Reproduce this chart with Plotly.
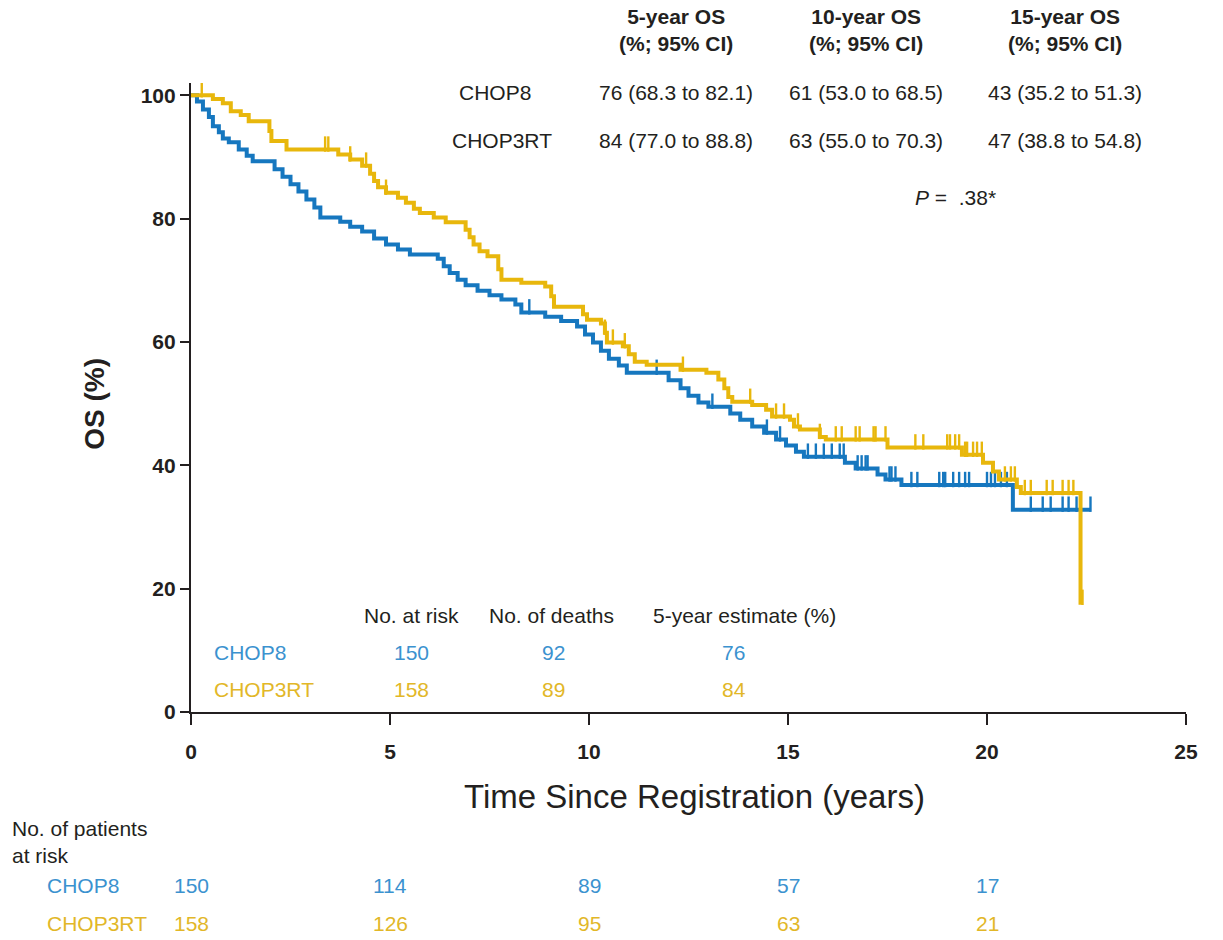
import numpy as np
import plotly.graph_objects as go

# ---------------- data ----------------
chop8_t = [0, 0.15, 0.3, 0.45, 0.55, 0.7, 0.8, 0.95, 1.2, 1.4, 1.55, 2.1, 2.3, 2.5, 2.7, 2.9, 3.1, 3.25,
           3.75, 4.0, 4.3, 4.6, 4.9, 5.2, 5.5, 6.2, 6.35, 6.5, 6.7, 6.9, 7.2, 7.5, 7.8, 8.15, 8.3, 8.9,
           9.3, 9.7, 9.9, 10.1, 10.3, 10.5, 10.75, 10.95, 12.0, 12.3, 12.5, 12.75, 13.0, 13.55, 13.8,
           14.1, 14.4, 14.7, 14.95, 15.2, 15.4, 16.43, 16.7, 17.25, 17.45, 17.85, 20.65, 22.6]
chop8_s = [100, 99, 97.7, 96.5, 95, 94, 93, 92.4, 91.2, 90.2, 89.3, 88, 86.8, 85.6, 84.4, 83.1, 81.8, 80.2,
           79.5, 78.7, 77.9, 76.8, 75.8, 75, 74.2, 73.5, 72.3, 71.2, 70.1, 69.2, 68.3, 67.6, 66.9, 66.1, 64.8, 64.1,
           63.4, 62.5, 61.2, 59.9, 58.6, 57.3, 56.2, 55, 53.8, 52.5, 51.3, 50.2, 49.5, 48.4, 47.4,
           46.3, 45.3, 44.2, 43.2, 42.2, 41.4, 40.4, 39.5, 38.5, 37.7, 36.8, 32.8, 32.8]

chop3rt_t = [0, 0.55, 0.8, 1.0, 1.25, 1.45, 1.97, 2.02, 2.4, 3.7, 4.0, 4.3, 4.5, 4.6, 4.7, 4.9, 5.2, 5.4,
             5.6, 5.75, 6.1, 6.4, 6.9, 7.0, 7.1, 7.25, 7.45, 7.72, 7.8, 8.3, 8.9, 9.05, 9.12, 9.85, 9.95,
             10.3, 10.4, 10.45, 10.85, 11.0, 11.15, 11.45, 12.3, 12.95, 13.25, 13.4, 13.5, 13.6, 14.1,
             14.45, 14.6, 15.05, 15.15, 15.3, 15.8, 15.95, 17.5, 19.37, 19.9, 20.15, 20.3, 20.75, 20.85,
             22.35, 22.4]
chop3rt_s = [100, 99.4, 98.7, 97.4, 96.8, 95.8, 94.2, 92.6, 91.2, 90.4, 89.6, 88.6, 87.3, 86.1, 85.1, 84.2, 83.4, 82.6,
             81.6, 80.9, 80.2, 79.4, 78.2, 77, 75.8, 74.7, 73.9, 71.8, 70.1, 69.6, 69.0, 67.4, 65.7, 64.5, 63.6,
             63.0, 61.5, 59.9, 59.3, 58, 56.8, 56.3, 55.5, 55.0, 53.9, 52.5, 51.1, 50.3, 49.8,
             49, 47.9, 47.4, 46.3, 45.8, 44.6, 44.2, 42.9, 41.7, 40.4, 39, 37.7, 36.5, 35.5,
             17.7, 17.7]

chop8_cens = [8.5, 11.7, 13.1, 14.47, 14.8, 15.5, 15.7, 15.9, 16.1, 16.3, 16.4, 16.75, 16.85, 16.95, 17.0,
              17.55, 17.6, 17.7, 18.1, 18.25, 18.8, 18.9, 18.95, 19.15, 19.3, 19.45, 19.55, 20.0, 20.1,
              20.2, 20.35, 20.5, 21.1, 21.4, 21.6, 21.9, 22.05, 22.25, 22.6]
chop3rt_cens = [0.27, 3.37, 3.45, 4.0, 4.4, 4.9, 10.4, 10.6, 10.9, 12.36, 14.05, 14.7, 14.9, 15.25, 15.8,
                16.2, 16.35, 16.7, 16.8, 17.15, 17.2, 17.45, 18.2, 18.4, 19.0, 19.07, 19.2, 19.3, 19.45,
                19.5, 19.65, 19.75, 19.87, 20.45, 20.6, 20.7, 20.95, 21.1, 21.5, 21.65, 21.9, 22.05, 22.17, 22.4]

x_ticks = [0, 5, 10, 15, 20, 25]
y_ticks = [0, 20, 40, 60, 80, 100]

arms = ["CHOP8", "CHOP3RT"]
os_headers = ["5-year OS<br>(%; 95% CI)", "10-year OS<br>(%; 95% CI)", "15-year OS<br>(%; 95% CI)"]
os_values = {
    "CHOP8": ["76 (68.3 to 82.1)", "61 (53.0 to 68.5)", "43 (35.2 to 51.3)"],
    "CHOP3RT": ["84 (77.0 to 88.8)", "63 (55.0 to 70.3)", "47 (38.8 to 54.8)"],
}
p_value = ".38*"

summary_headers = ["No. at risk", "No. of deaths", "5-year estimate (%)"]
summary_values = {"CHOP8": ["150", "92", "76"], "CHOP3RT": ["158", "89", "84"]}

risk_times = [0, 5, 10, 15, 20]
risk_chop8 = [150, 114, 89, 57, 17]
risk_chop3rt = [158, 126, 95, 63, 21]

# ---------------- style ----------------
BLUE = "#1677bf"
YELLOW = "#e8b70c"
BLUE_TXT = "#3b92cf"
YELLOW_TXT = "#e2b728"
INK = "#231f20"
FONT = "Liberation Sans, Arial, sans-serif"
FS = 21


def surv_at(times, surv, t):
    times = np.asarray(times)
    surv = np.asarray(surv)
    idx = np.searchsorted(times, t, side="right") - 1
    return surv[np.clip(idx, 0, len(surv) - 1)]


fig = go.Figure()

for t, s, cens, col, name in [(chop8_t, chop8_s, chop8_cens, BLUE, "CHOP8"),
                              (chop3rt_t, chop3rt_s, chop3rt_cens, YELLOW, "CHOP3RT")]:
    fig.add_trace(go.Scatter(x=t, y=s, mode="lines", line=dict(color=col, width=4, shape="hv"),
                             name=name, showlegend=False, hoverinfo="skip"))
    cy = [surv_at(t, s, c) + 0.9 for c in cens]
    fig.add_trace(go.Scatter(x=cens, y=cy, mode="markers",
                             marker=dict(symbol="line-ns", size=11, line=dict(color=col, width=2.4)),
                             showlegend=False, hoverinfo="skip"))

fig.update_xaxes(range=[0, 25], tickvals=x_ticks, ticktext=[str(v) for v in x_ticks],
                 showline=True, linecolor=INK, linewidth=2.2, ticks="outside", ticklen=11, tickwidth=2,
                 tickcolor=INK, showgrid=False, zeroline=False, ticklabelstandoff=9,
                 tickfont=dict(family=FONT, size=21, color=INK, weight="bold"))
fig.update_yaxes(range=[0, 102], tickvals=y_ticks, ticktext=[str(v) for v in y_ticks],
                 showline=True, linecolor=INK, linewidth=2.2, ticks="outside", ticklen=9, tickwidth=2,
                 tickcolor=INK, showgrid=False, zeroline=False,
                 tickfont=dict(family=FONT, size=21, color=INK, weight="bold"))

ann = []
# axis titles
ann.append(dict(text="Time Since Registration (years)", xref="paper", yref="paper", x=0.5065, y=-0.135,
                xanchor="center", yanchor="middle", showarrow=False,
                font=dict(family=FONT, size=33, color=INK)))
ann.append(dict(text="OS (%)", xref="paper", yref="paper", x=-0.0965, y=0.49, textangle=-90,
                xanchor="center", yanchor="middle", showarrow=False,
                font=dict(family=FONT, size=28, color=INK, weight="bold")))

# top OS table
col_x = [12.19, 16.96, 21.96]
for cx, h in zip(col_x, os_headers):
    ann.append(dict(text=h, x=cx, y=1.0835, xref="x", yref="paper", showarrow=False, xanchor="center",
                    yanchor="middle", font=dict(family=FONT, size=FS, color=INK, weight="bold")))
row_y = {"CHOP8": 100.4, "CHOP3RT": 92.75}
label_x = {"CHOP8": 7.64, "CHOP3RT": 7.81}
for arm in arms:
    ann.append(dict(text=arm, x=label_x[arm], y=row_y[arm], xref="x", yref="y", showarrow=False,
                    xanchor="center", yanchor="middle", font=dict(family=FONT, size=FS, color=INK)))
    for cx, v in zip(col_x, os_values[arm]):
        ann.append(dict(text=v, x=cx, y=row_y[arm], xref="x", yref="y", showarrow=False, xanchor="center",
                        yanchor="middle", font=dict(family=FONT, size=FS, color=INK)))
ann.append(dict(text="<i>P</i> =  " + p_value, x=19.2, y=83.5, xref="x", yref="y", showarrow=False,
                xanchor="center", yanchor="middle", font=dict(family=FONT, size=FS, color=INK)))

# summary table inside plot
sum_x = [5.53, 9.05, 13.9]
sum_val_x = [5.53, 9.1, 13.64]
for sx, h in zip(sum_x, summary_headers):
    ann.append(dict(text=h, x=sx, y=15.6, xref="x", yref="y", showarrow=False, xanchor="center",
                    yanchor="middle", font=dict(family=FONT, size=FS, color=INK)))
sum_row_y = {"CHOP8": 9.7, "CHOP3RT": 3.7}
arm_col = {"CHOP8": BLUE_TXT, "CHOP3RT": YELLOW_TXT}
for arm in arms:
    ann.append(dict(text=arm, x=0.53, y=sum_row_y[arm], xref="x", yref="y", showarrow=False,
                    xanchor="left", yanchor="middle", font=dict(family=FONT, size=FS, color=arm_col[arm])))
    for sx, v in zip(sum_val_x, summary_values[arm]):
        ann.append(dict(text=v, x=sx, y=sum_row_y[arm], xref="x", yref="y", showarrow=False,
                        xanchor="center", yanchor="middle",
                        font=dict(family=FONT, size=FS, color=arm_col[arm])))

# number at risk below axis
ann.append(dict(text="No. of patients<br>at risk", xref="paper", yref="paper", x=-0.182, y=-0.2067,
                xanchor="left", yanchor="middle", align="left", showarrow=False,
                font=dict(family=FONT, size=FS, color=INK)))
risk_y = {"CHOP8": -0.2766, "CHOP3RT": -0.3355}
risk_vals = {"CHOP8": risk_chop8, "CHOP3RT": risk_chop3rt}
for arm in arms:
    ann.append(dict(text=arm, xref="paper", yref="paper", x=-0.1467, y=risk_y[arm], xanchor="left",
                    yanchor="middle", showarrow=False,
                    font=dict(family=FONT, size=FS, color=arm_col[arm])))
    for rt, rv in zip(risk_times, risk_vals[arm]):
        ann.append(dict(text=str(rv), x=rt, xref="x", yref="paper", y=risk_y[arm], xanchor="center",
                        yanchor="middle", showarrow=False,
                        font=dict(family=FONT, size=FS, color=arm_col[arm])))

fig.update_layout(width=1223, height=940, margin=dict(l=191, r=37, t=83, b=228),
                  plot_bgcolor="white", paper_bgcolor="white", annotations=ann,
                  font=dict(family=FONT, color=INK))

fig.write_html("out.html")
